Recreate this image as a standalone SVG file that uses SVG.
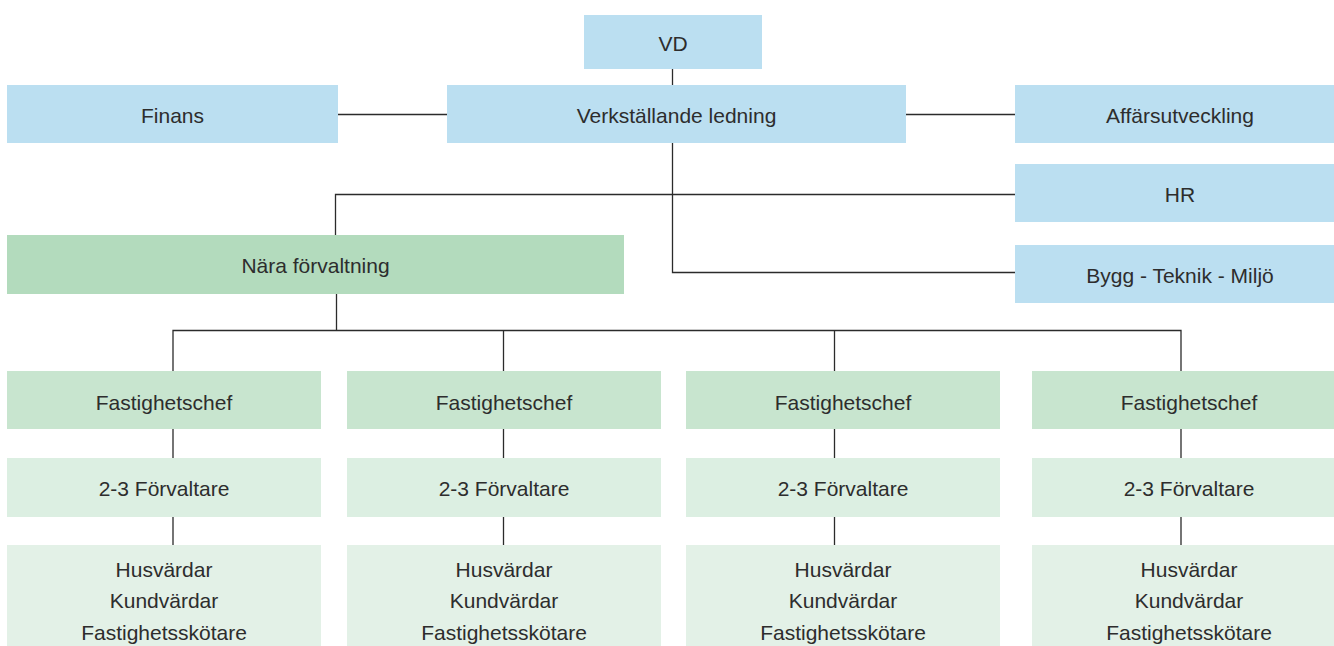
<svg xmlns="http://www.w3.org/2000/svg" width="1334" height="646" viewBox="0 0 1334 646">
<style>
text{font-family:"Liberation Sans",Arial,sans-serif;font-size:21px;fill:#2d2d2d;text-anchor:middle}
.b{fill:#bbdff1}
.g0{fill:#b3dbbd}
.g1{fill:#c8e5cf}
.g2{fill:#dcefe2}
.g3{fill:#e3f1e7}
.c{stroke:#2b2b2b;stroke-width:1.3;fill:none}
</style>
<rect width="1334" height="646" fill="#fff"/>
<g id="connectors" class="c">
<path d="M672.5 69V85"/>
<path d="M338 114.5H447"/>
<path d="M906 114.5H1015"/>
<path d="M672.5 143V272.5H1015"/>
<path d="M1015 194.5H335.5V235"/>
<path d="M336.5 294V330.5"/>
<path d="M173 371V330.5H1181V371"/>
<path d="M503.5 330.5V371"/>
<path d="M834.5 330.5V371"/>
<path d="M173 429V458M173 517V545"/>
<path d="M503.5 429V458M503.5 517V545"/>
<path d="M834.5 429V458M834.5 517V545"/>
<path d="M1181 429V458M1181 517V545"/>
</g>
<g id="vd"><rect class="b" x="584" y="15" width="178" height="54"/><text x="673" y="51">VD</text></g>
<g id="ledning"><rect class="b" x="447" y="85" width="459" height="58"/><text x="676.5" y="123">Verkställande ledning</text></g>
<g id="finans"><rect class="b" x="7" y="85" width="331" height="58"/><text x="172.5" y="123">Finans</text></g>
<g id="affar"><rect class="b" x="1015" y="85" width="330" height="58"/><text x="1180" y="123">Affärsutveckling</text></g>
<g id="hr"><rect class="b" x="1015" y="164" width="330" height="58"/><text x="1180" y="202">HR</text></g>
<g id="bygg"><rect class="b" x="1015" y="245" width="330" height="58"/><text x="1180" y="283">Bygg - Teknik - Miljö</text></g>
<g id="nara"><rect class="g0" x="7" y="235" width="617" height="59"/><text x="315.5" y="273">Nära förvaltning</text></g>
<g id="fc1"><rect class="g1" x="7" y="371" width="314" height="58"/><text x="164" y="410">Fastighetschef</text></g>
<g id="fc2"><rect class="g1" x="347" y="371" width="314" height="58"/><text x="504" y="410">Fastighetschef</text></g>
<g id="fc3"><rect class="g1" x="686" y="371" width="314" height="58"/><text x="843" y="410">Fastighetschef</text></g>
<g id="fc4"><rect class="g1" x="1032" y="371" width="314" height="58"/><text x="1189" y="410">Fastighetschef</text></g>
<g id="fv1"><rect class="g2" x="7" y="458" width="314" height="59"/><text x="164" y="496">2-3 Förvaltare</text></g>
<g id="fv2"><rect class="g2" x="347" y="458" width="314" height="59"/><text x="504" y="496">2-3 Förvaltare</text></g>
<g id="fv3"><rect class="g2" x="686" y="458" width="314" height="59"/><text x="843" y="496">2-3 Förvaltare</text></g>
<g id="fv4"><rect class="g2" x="1032" y="458" width="314" height="59"/><text x="1189" y="496">2-3 Förvaltare</text></g>
<g id="hv1"><rect class="g3" x="7" y="545" width="314" height="110"/><text x="164" y="577">Husvärdar</text><text x="164" y="608">Kundvärdar</text><text x="164" y="640">Fastighetsskötare</text></g>
<g id="hv2"><rect class="g3" x="347" y="545" width="314" height="110"/><text x="504" y="577">Husvärdar</text><text x="504" y="608">Kundvärdar</text><text x="504" y="640">Fastighetsskötare</text></g>
<g id="hv3"><rect class="g3" x="686" y="545" width="314" height="110"/><text x="843" y="577">Husvärdar</text><text x="843" y="608">Kundvärdar</text><text x="843" y="640">Fastighetsskötare</text></g>
<g id="hv4"><rect class="g3" x="1032" y="545" width="314" height="110"/><text x="1189" y="577">Husvärdar</text><text x="1189" y="608">Kundvärdar</text><text x="1189" y="640">Fastighetsskötare</text></g>
</svg>
